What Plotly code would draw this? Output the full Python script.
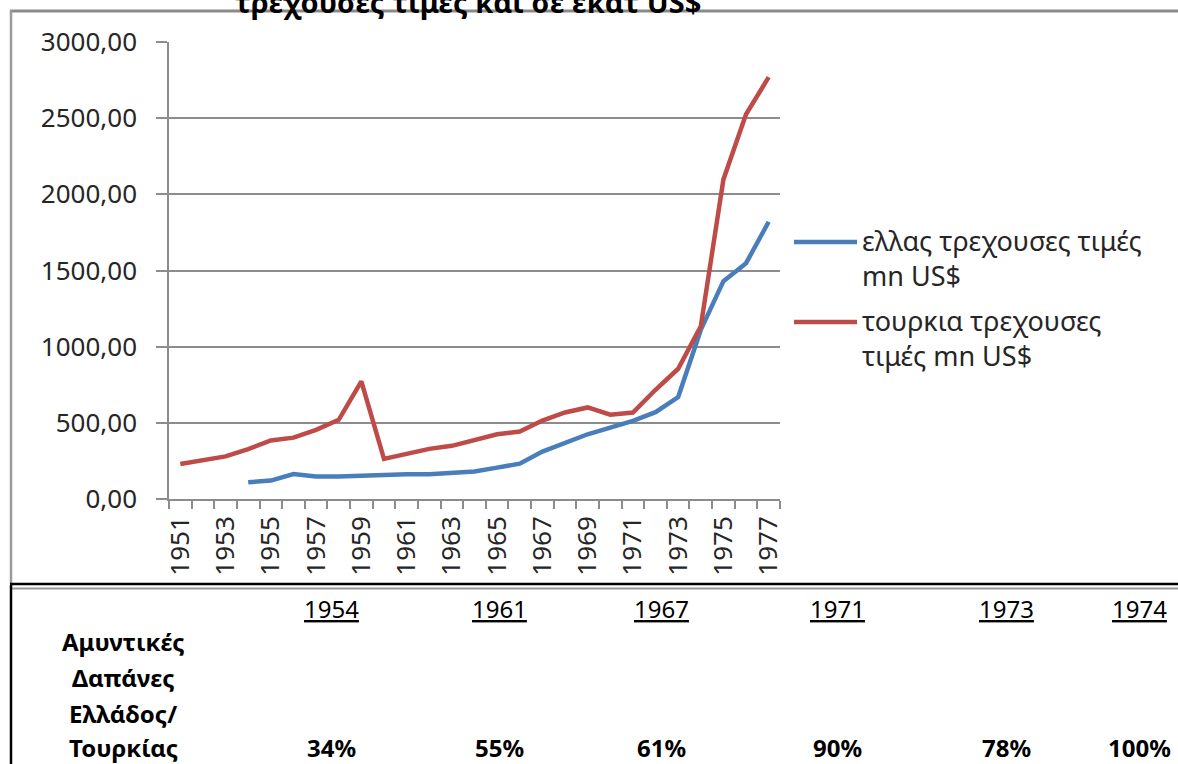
import plotly.graph_objects as go

# ---------------- data ----------------
years_turkey = list(range(1951, 1978))
turkey_values = [230, 252, 280, 327, 384, 403, 454, 520, 772, 263, 296, 329, 349, 384,
                 425, 443, 515, 568, 601, 553, 568, 717, 855, 1134, 2098, 2526, 2769]
years_greece = list(range(1954, 1978))
greece_values = [110, 121, 164, 147, 147, 151, 162, 162, 162, 171, 180, 206, 232, 311,
                 366, 425, 469, 513, 570, 669, 1110, 1430, 1548, 1820]

greece_name = "ελλας τρεχουσες τιμές<br>mn US$"
turkey_name = "τουρκια τρεχουσες<br>τιμές mn US$"
title_text = "τρεχουσες τιμες και σε εκατ US$"

x_tick_years = list(range(1951, 1978, 2))

table_label_lines = ["Αμυντικές", "Δαπάνες", "Ελλάδος/", "Τουρκίας"]
table_years = ["1954", "1961", "1967", "1971", "1973", "1974"]
table_pcts = ["34%", "55%", "61%", "90%", "78%", "100%"]

# ---------------- layout helpers ----------------
W, H = 1178, 764
PL, PR, PT, PB = 169, 780, 42, 499


def px(x):
    return (x - PL) / (PR - PL)


def py(y):
    return (PB - y) / (PB - PT)


FONT = "Noto Sans, Open Sans, DejaVu Sans, sans-serif"
BLUE = "#4A7EBB"
RED = "#BE4B48"
GRID = "#8c8c8c"
TXT = "#262626"

fig = go.Figure()
fig.add_trace(go.Scatter(x=years_greece, y=greece_values, mode="lines",
                         line=dict(color=BLUE, width=4.5), name=greece_name))
fig.add_trace(go.Scatter(x=years_turkey, y=turkey_values, mode="lines",
                         line=dict(color=RED, width=4.5), name=turkey_name))

shapes = []
# frame of chart area
shapes.append(dict(type="line", xref="paper", yref="paper", x0=px(10), x1=px(1180), y0=py(11), y1=py(11),
                   line=dict(color="#8a8a8a", width=3)))
shapes.append(dict(type="line", xref="paper", yref="paper", x0=px(11), x1=px(11), y0=py(10), y1=py(584),
                   line=dict(color="#9a9a9a", width=2.5)))
# separator double line
shapes.append(dict(type="line", xref="paper", yref="paper", x0=px(10), x1=px(1180), y0=py(584), y1=py(584),
                   line=dict(color="#000000", width=2.5)))
shapes.append(dict(type="line", xref="paper", yref="paper", x0=px(12), x1=px(1180), y0=py(588.5), y1=py(588.5),
                   line=dict(color="#9a9a9a", width=2)))
shapes.append(dict(type="line", xref="paper", yref="paper", x0=px(11), x1=px(11), y0=py(585), y1=py(770),
                   line=dict(color="#000000", width=2.5)))
# legend keys
shapes.append(dict(type="line", xref="paper", yref="paper", x0=px(794), x1=px(857), y0=py(242), y1=py(242),
                   line=dict(color=BLUE, width=4.5)))
shapes.append(dict(type="line", xref="paper", yref="paper", x0=px(794), x1=px(857), y0=py(322), y1=py(322),
                   line=dict(color=RED, width=4.5)))

annotations = []
annotations.append(dict(text="<b>" + title_text + "</b>", xref="paper", yref="paper",
                        x=px(468), y=py(2), xanchor="center", yanchor="middle", showarrow=False,
                        font=dict(family=FONT, size=29, color="#000000")))
annotations.append(dict(text=greece_name, xref="paper", yref="paper", x=px(860), y=py(258),
                        xanchor="left", yanchor="middle", align="left", showarrow=False,
                        font=dict(family=FONT, size=27, color=TXT)))
annotations.append(dict(text=turkey_name, xref="paper", yref="paper", x=px(860), y=py(338),
                        xanchor="left", yanchor="middle", align="left", showarrow=False,
                        font=dict(family=FONT, size=27, color=TXT)))
# table
label_y = [641, 677, 713, 747]
for ly, line in zip(label_y, table_label_lines):
    annotations.append(dict(text="<b>" + line + "</b>", xref="paper", yref="paper", x=px(123), y=py(ly),
                            xanchor="center", yanchor="middle", showarrow=False,
                            font=dict(family=FONT, size=24, color="#000000")))
col_x = [331, 499, 661, 837, 1006, 1139]
for cx, yr, pc in zip(col_x, table_years, table_pcts):
    annotations.append(dict(text="<u>" + yr + "</u>", xref="paper", yref="paper", x=px(cx), y=py(608),
                            xanchor="center", yanchor="middle", showarrow=False,
                            font=dict(family=FONT, size=24, color="#000000")))
    annotations.append(dict(text="<b>" + pc + "</b>", xref="paper", yref="paper", x=px(cx), y=py(747),
                            xanchor="center", yanchor="middle", showarrow=False,
                            font=dict(family=FONT, size=24, color="#000000")))

fig.update_layout(
    width=W, height=H,
    margin=dict(l=PL, r=W - PR, t=PT, b=H - PB, pad=0),
    paper_bgcolor="white", plot_bgcolor="white",
    showlegend=False,
    separators=",.",
    font=dict(family=FONT, color=TXT),
    shapes=shapes,
    annotations=annotations,
    xaxis=dict(range=[1950.5, 1977.5], tickmode="array", tickvals=x_tick_years,
               ticktext=[str(y) for y in x_tick_years], tickangle=-90,
               ticks="", ticklabelstandoff=5, showgrid=False, zeroline=False,
               showline=True, linecolor=GRID, linewidth=1.5,
               tickfont=dict(family=FONT, size=26, color=TXT),
               minor=dict(tickmode="linear", tick0=1950.5, dtick=1, ticks="outside",
                          ticklen=8, tickcolor=GRID, tickwidth=1.5, showgrid=False)),
    yaxis=dict(range=[0, 3000], tickmode="linear", tick0=0, dtick=500, tickformat=".2f",
               showgrid=True, gridcolor=GRID, gridwidth=1.5, zeroline=False,
               showline=True, linecolor=GRID, linewidth=1.5,
               ticks="outside", ticklen=11, tickcolor=GRID, tickwidth=1.5,
               ticklabelstandoff=14,
               tickfont=dict(family=FONT, size=26, color=TXT)),
)

fig.write_html("out.html", config={"displayModeBar": False},
               post_script="document.body.style.margin='0';document.body.style.padding='0';")
